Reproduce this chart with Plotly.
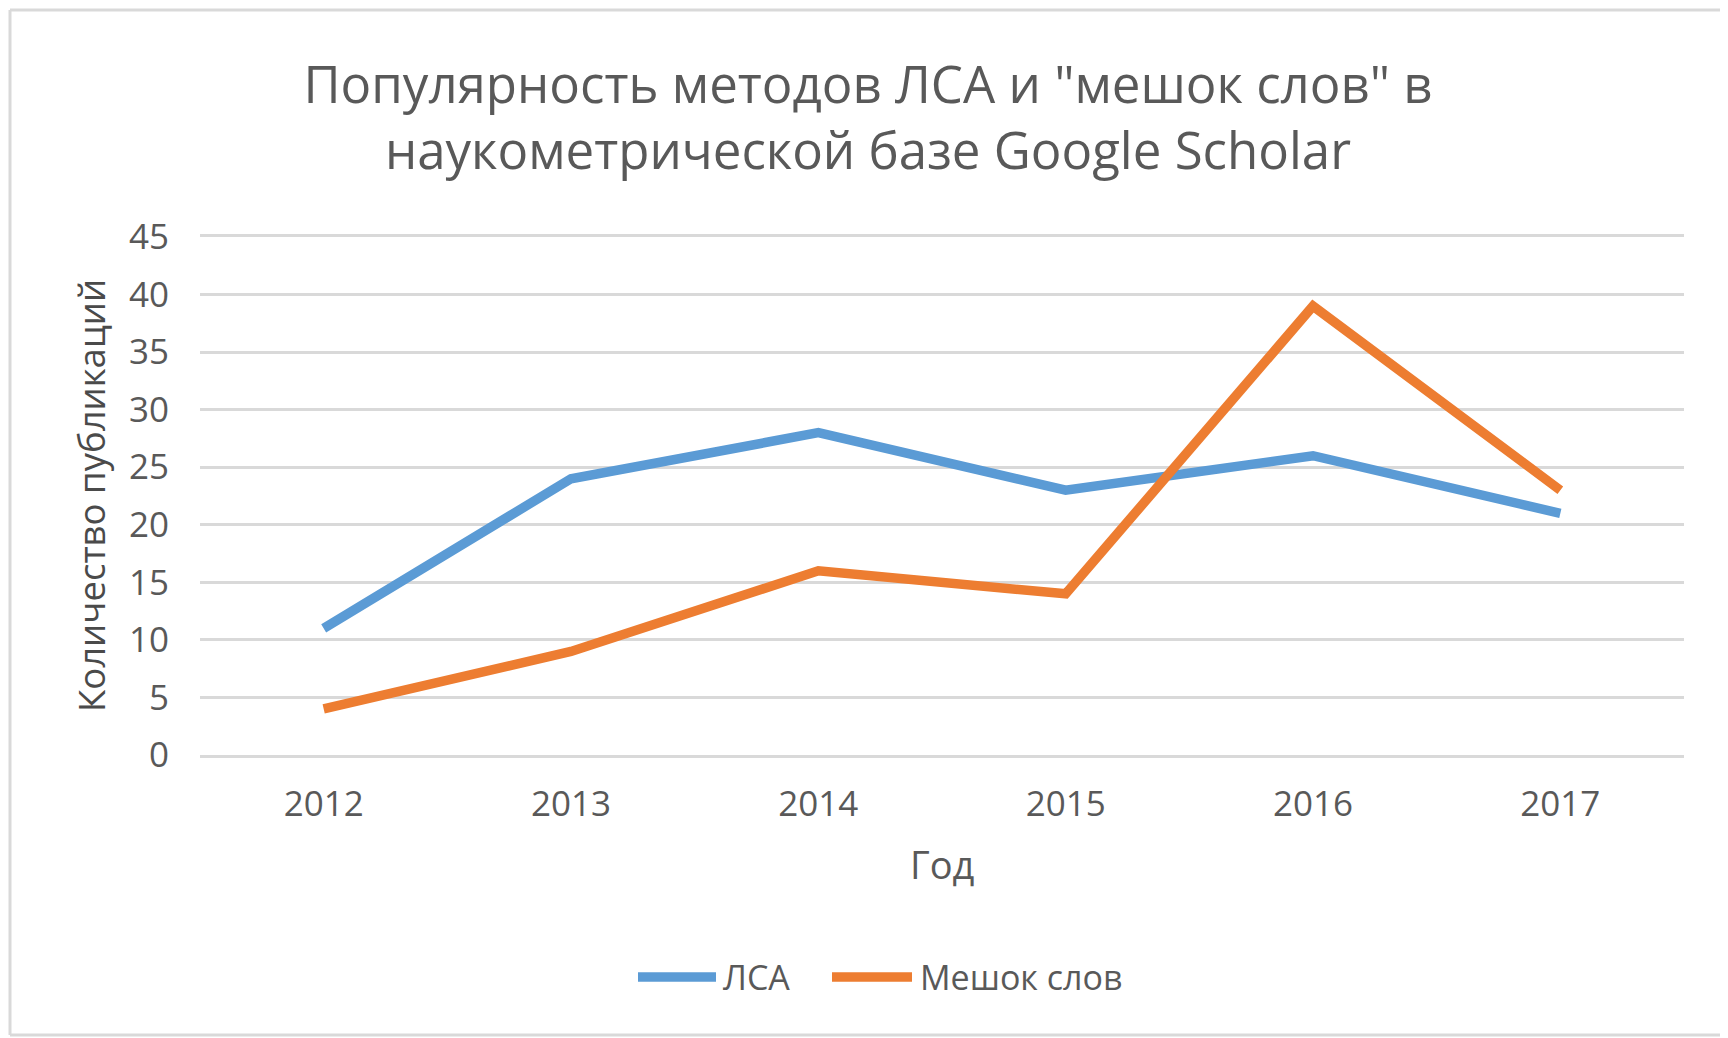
import plotly.graph_objects as go

years = ["2012", "2013", "2014", "2015", "2016", "2017"]
lsa = [11, 24, 28, 23, 26, 21]
bow = [4, 9, 16, 14, 39, 23]
series_names = ["ЛСА", "Мешок слов"]
y_ticks = [0, 5, 10, 15, 20, 25, 30, 35, 40, 45]

W, H = 1728, 1038
OFF = 8  # page body margin offset
# plot area in screen pixels
SL, SR, ST, SB = 200, 1684, 237, 755
L, R, T, B = SL - OFF, SR - OFF, ST - OFF, SB - OFF
FONT = "Open Sans"
GRAY = "#595959"
BLUE = "#5B9BD5"
ORANGE = "#ED7D31"
GRID = "#D9D9D9"


def px(x):
    return (x - OFF - L) / (R - L)


def py(y):
    return (B - (y - OFF)) / (B - T)


fig = go.Figure()
fig.add_trace(go.Scatter(x=years, y=lsa, mode="lines", name=series_names[0],
                         line=dict(color=BLUE, width=9.5), showlegend=False))
fig.add_trace(go.Scatter(x=years, y=bow, mode="lines", name=series_names[1],
                         line=dict(color=ORANGE, width=9.5), showlegend=False))

shapes = [
    dict(type="line", xref="paper", yref="paper", x0=px(10), x1=px(10), y0=py(10), y1=py(1035),
         line=dict(color=GRID, width=3)),
    dict(type="line", xref="paper", yref="paper", x0=px(10), x1=px(1760), y0=py(10), y1=py(10),
         line=dict(color=GRID, width=3)),
    dict(type="line", xref="paper", yref="paper", x0=px(10), x1=px(1760), y0=py(1035), y1=py(1035),
         line=dict(color=GRID, width=3)),
    dict(type="line", xref="paper", yref="paper", x0=px(638), x1=px(716), y0=py(977), y1=py(977),
         line=dict(color=BLUE, width=9.5)),
    dict(type="line", xref="paper", yref="paper", x0=px(832), x1=px(912), y0=py(977), y1=py(977),
         line=dict(color=ORANGE, width=9.5)),
]

annotations = [
    dict(text="Год", xref="paper", yref="paper", x=px(942), y=py(864), showarrow=False,
         xanchor="center", yanchor="middle", font=dict(family=FONT, size=38, color=GRAY)),
    dict(text="Количество публикаций", xref="paper", yref="paper", x=px(91), y=py(496),
         showarrow=False, textangle=-90, xanchor="center", yanchor="middle",
         font=dict(family=FONT, size=36.5, color="#4a4a4a")),
    dict(text=series_names[0], xref="paper", yref="paper", x=px(721), y=py(977), showarrow=False,
         xanchor="left", yanchor="middle", font=dict(family=FONT, size=34, color=GRAY)),
    dict(text=series_names[1], xref="paper", yref="paper", x=px(918), y=py(977), showarrow=False,
         xanchor="left", yanchor="middle", font=dict(family=FONT, size=34, color=GRAY)),
]

fig.update_layout(
    width=W, height=H,
    margin=dict(l=L, r=W - R, t=T, b=H - B, pad=0),
    paper_bgcolor="white", plot_bgcolor="white",
    title=dict(text='Популярность методов ЛСА и "мешок слов" в<br>наукометрической базе Google Scholar',
               x=(868 - OFF) / W, xref="container", xanchor="center",
               y=1 - (103 - OFF) / H, yref="container", yanchor="middle",
               font=dict(family=FONT, size=51, color=GRAY)),
    shapes=shapes,
    annotations=annotations,
    xaxis=dict(type="category", range=[-0.5, 5.5], showgrid=False, zeroline=False,
               showline=True, mirror=True, linecolor=GRID, linewidth=2.5,
               ticks="", ticklabelstandoff=16,
               tickfont=dict(family=FONT, size=35, color=GRAY)),
    yaxis=dict(range=[0, 45], tickvals=y_ticks, showgrid=True, gridcolor=GRID, gridwidth=2.5,
               zeroline=True, zerolinecolor=GRID, zerolinewidth=2.5, showline=False,
               ticks="", ticklabelstandoff=30,
               tickfont=dict(family=FONT, size=35, color=GRAY)),
)

fig.write_html("out.html")
